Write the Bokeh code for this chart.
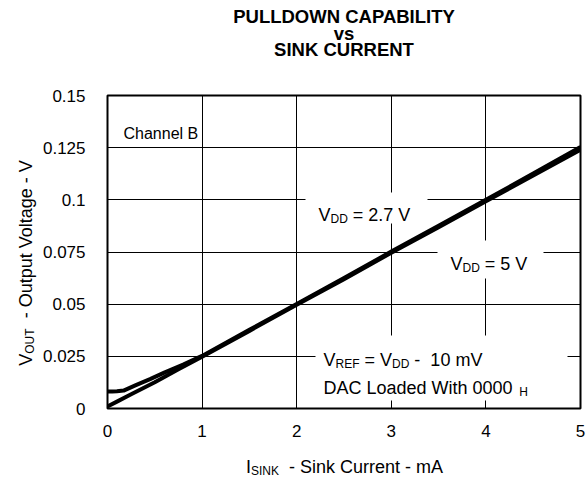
from bokeh.plotting import figure
from bokeh.models import Label, BoxAnnotation, FixedTicker
from bokeh.core.properties import value
from bokeh.embed import file_html
from bokeh.resources import INLINE
import math

# ---------------- data ----------------
x_vdd27 = [0.0, 0.05, 0.10, 0.17, 0.30, 0.45, 0.60, 0.80, 1.0, 1.5, 2.0, 2.5, 3.0, 3.5, 4.0, 4.5, 5.0]
y_vdd27 = [0.0082, 0.0082, 0.0083, 0.0086, 0.0112, 0.0141, 0.0172, 0.0210, 0.0252, 0.0377, 0.0501, 0.0625, 0.0752, 0.0876, 0.1000, 0.1126, 0.1253]

x_vdd5 = [0.0, 0.10, 0.25, 0.50, 0.75, 1.0, 1.5, 2.0, 2.5, 3.0, 3.5, 4.0, 4.5, 5.0]
y_vdd5 = [0.0010, 0.0033, 0.0068, 0.0126, 0.0188, 0.0248, 0.0372, 0.0497, 0.0620, 0.0746, 0.0869, 0.0993, 0.1117, 0.1240]

x_ticks = [0, 1, 2, 3, 4, 5]
y_ticks = [0, 0.025, 0.05, 0.075, 0.1, 0.125, 0.15]
y_tick_labels = ["0", "0.025", "0.05", "0.075", "0.1", "0.125", "0.15"]

title_lines = ["PULLDOWN CAPABILITY", "vs", "SINK CURRENT"]

FONT = "Liberation Sans"

# ---------------- geometry (figure pixels) ----------------
W, H = 588, 485
FR_L, FR_R, FR_T, FR_B = 107, 580, 95, 408
p = figure(width=W, height=H, output_backend="svg", toolbar_location=None,
           x_range=(0, 5), y_range=(0, 0.15), title=None,
           min_border_left=FR_L, min_border_right=W - FR_R,
           min_border_top=FR_T, min_border_bottom=H - FR_B)
p.background_fill_color = "white"
p.border_fill_color = "white"
p.outline_line_color = "black"
p.outline_line_width = 2

SX = (FR_R - FR_L) / 5.0
SY = (FR_B - FR_T) / 0.15


def to_data(px, py):
    return (px - FR_L) / SX, (FR_B - py) / SY


for ax in (p.xaxis[0], p.yaxis[0]):
    ax.axis_line_color = None
    ax.major_tick_line_color = None
    ax.minor_tick_line_color = None
    ax.major_label_text_font = FONT
    ax.major_label_text_font_size = "17px"
    ax.major_label_text_color = "black"
p.xaxis.ticker = FixedTicker(ticks=x_ticks)
p.yaxis.ticker = FixedTicker(ticks=y_ticks)
p.yaxis.major_label_overrides = {t: s for t, s in zip(y_ticks, y_tick_labels)}
p.xaxis.major_label_standoff = 10
p.yaxis.major_label_standoff = 16

p.xgrid.ticker = FixedTicker(ticks=x_ticks[1:-1])
p.ygrid.ticker = FixedTicker(ticks=y_ticks[1:-1])
for g in (p.xgrid[0], p.ygrid[0]):
    g.grid_line_color = "black"
    g.grid_line_width = 1
    g.grid_line_alpha = 1.0


def wbox(X0, X1, Y0, Y1):
    l, t = to_data(X0, Y0)
    r, b = to_data(X1, Y1)
    p.add_layout(BoxAnnotation(left=l, right=r, top=t, bottom=b, fill_color="white",
                               fill_alpha=1.0, line_color=None, level="underlay"))


wbox(305, 427, 192, 223)
wbox(437, 543, 240, 278)
wbox(315, 567, 335, 400)

# ---------------- data lines ----------------
p.line(x_vdd27, y_vdd27, line_color="black", line_width=4, line_join="round")
p.line(x_vdd5, y_vdd5, line_color="black", line_width=4, line_join="round")

# ---------------- text helpers ----------------
CW = {' ': 278, '-': 333, '=': 584, '.': 278, '0': 556, '1': 556, '2': 556, '3': 556,
      '4': 556, '5': 556, '6': 556, '7': 556, '8': 556, '9': 556,
      'A': 667, 'B': 667, 'C': 722, 'D': 722, 'E': 667, 'F': 611, 'H': 722, 'I': 278,
      'K': 667, 'N': 722, 'O': 778, 'R': 722, 'S': 667, 'T': 611, 'U': 722, 'V': 667,
      'W': 944, 'L': 556, 'M': 833, 'P': 667, 'Y': 667,
      'a': 556, 'c': 500, 'd': 556, 'e': 556, 'g': 556, 'h': 556, 'i': 222, 'k': 500,
      'l': 222, 'm': 833, 'n': 556, 'o': 556, 'p': 556, 'r': 333, 's': 500, 't': 278,
      'u': 556, 'v': 500, 'w': 722, 'y': 500}


def tw(s, size):
    return sum(CW.get(c, 556) for c in s) / 1000.0 * size


def layout_pieces(px, py, pieces, size, sub, drop=4, rotated=False):
    out = []
    pos = 0.0
    for text, is_sub in pieces:
        fs = sub if is_sub else size
        lead = len(text) - len(text.lstrip(' '))
        pos += tw(' ' * lead, fs)
        body = text.strip(' ')
        if not rotated:
            x, y = to_data(px + pos, py + (drop if is_sub else 0))
        else:
            x, y = to_data(px + (drop if is_sub else 0), py - pos)
        out.append((x, y, body, fs))
        pos += tw(body, fs)
    return out


def inner_text(px, py, pieces, size, sub):
    for x, y, body, fs in layout_pieces(px, py, pieces, size, sub):
        p.add_layout(Label(x=x, y=y, text=body, text_font=FONT, text_font_size=f"{fs}px",
                           text_color="black", text_align="left",
                           text_baseline="alphabetic"))


def outer_text(px, py, pieces, size, sub, rotated=False):
    for x, y, body, fs in layout_pieces(px, py, pieces, size, sub, rotated=rotated):
        p.text(x=[x], y=[y], text=[body], text_font=value(FONT),
               text_font_size=value(f"{fs}px"), text_color="black", text_align="left",
               text_baseline="alphabetic", angle=(math.pi / 2 if rotated else 0.0),
               level="overlay")


# ---------------- annotations inside the frame ----------------
AN, AS = 18, 12
inner_text(123, 133, [("Channel B", False)], 16, AS)
inner_text(318, 214, [("V", False), ("DD", True), (" = 2.7 V", False)], AN, AS)
inner_text(450, 263, [("V", False), ("DD", True), (" = 5 V", False)], AN, AS)
inner_text(323, 359, [("V", False), ("REF", True), (" = V", False), ("DD", True),
                      (" -", False), ("  10 mV", False)], AN, AS)
inner_text(323, 387, [("DAC Loaded With 0000", False), ("  H", True)], AN, AS)

# ---------------- title ----------------
tx, _ = to_data((FR_L + FR_R) / 2, 0)
for line, base in zip(title_lines, [16, 33, 49]):
    _, ty = to_data(0, base)
    p.text(x=[tx], y=[ty], text=[line], text_font=value(FONT), text_font_size=value("18.5px"),
           text_font_style="bold", text_color="black", text_align="center",
           text_baseline="alphabetic", level="overlay")

# ---------------- axis titles ----------------
LS, LSUB = 18, 12
xl = [("I", False), ("SINK", True), ("  - Sink Current - mA", False)]
xw = sum(tw(t, LSUB if s else LS) for t, s in xl)
outer_text(344 - xw / 2, 466, xl, LS, LSUB)

yl = [("V", False), ("OUT", True), ("  - Output Voltage - V", False)]
yw = sum(tw(t, LSUB if s else LS) for t, s in yl)
outer_text(25, 262 + yw / 2, yl, LS, LSUB, rotated=True)

open("out.html", "w").write(file_html(p, INLINE))
